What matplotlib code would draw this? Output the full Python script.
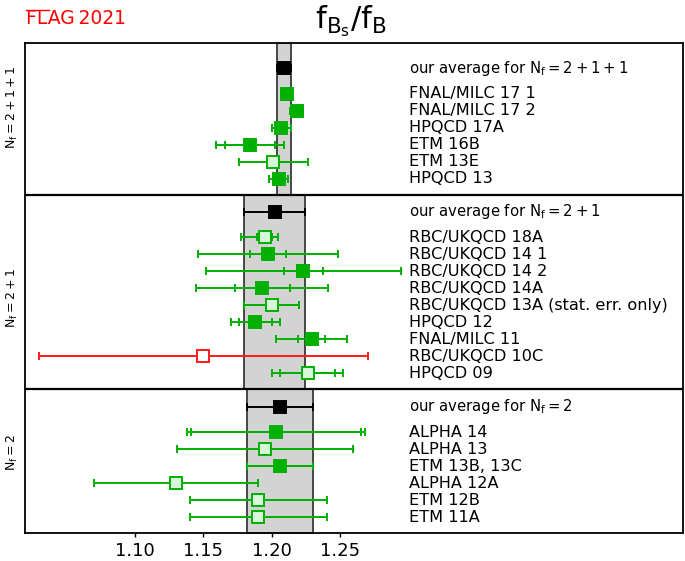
import numpy as np
import matplotlib
matplotlib.use('Agg')
import matplotlib.pyplot as plt
from matplotlib.lines import Line2D
import matplotlib.transforms as mtransforms

plt.rcParams['font.family'] = ['DejaVu Sans']
plt.rcParams['mathtext.default'] = 'regular'

# ---------------- data ----------------
group_labels = [r'$N_f=2+1+1$', r'$N_f=2+1$', r'$N_f=2$']
avg_labels = [r'our average for $N_f=2+1+1$', r'our average for $N_f=2+1$',
              r'our average for $N_f=2$']
avg_values = [1.209, 1.202, 1.206]
avg_errors = [0.005, 0.022, 0.024]

labels_4 = ['FNAL/MILC 17 1', 'FNAL/MILC 17 2', 'HPQCD 17A', 'ETM 16B', 'ETM 13E', 'HPQCD 13']
values_4 = [1.2109, 1.2180, 1.207, 1.184, 1.201, 1.205]
err_lo_4 = [0.0041, 0.0049, 0.007, 0.025, 0.025, 0.007]
err_hi_4 = [0.0041, 0.0049, 0.007, 0.025, 0.025, 0.007]
stat_4 = [0, 0, 0, 0.018, 0, 0]
style_4 = ['filled', 'filled', 'filled', 'filled', 'open', 'filled']

labels_3 = ['RBC/UKQCD 18A', 'RBC/UKQCD 14 1', 'RBC/UKQCD 14 2', 'RBC/UKQCD 14A',
            'RBC/UKQCD 13A (stat. err. only)', 'HPQCD 12', 'FNAL/MILC 11',
            'RBC/UKQCD 10C', 'HPQCD 09']
values_3 = [1.1949, 1.197, 1.223, 1.193, 1.200, 1.188, 1.229, 1.150, 1.226]
err_lo_3 = [0.0171, 0.051, 0.071, 0.048, 0.020, 0.018, 0.026, 0.120, 0.026]
err_hi_3 = [0.0093, 0.051, 0.071, 0.048, 0.020, 0.018, 0.026, 0.120, 0.026]
stat_3 = [0.0055, 0.013, 0.014, 0.020, 0, 0.012, 0.010, 0, 0.020]
style_3 = ['open', 'filled', 'filled', 'filled', 'open', 'filled', 'filled', 'red', 'open']

labels_2 = ['ALPHA 14', 'ALPHA 13', 'ETM 13B, 13C', 'ALPHA 12A', 'ETM 12B', 'ETM 11A']
values_2 = [1.203, 1.195, 1.206, 1.130, 1.190, 1.190]
err_lo_2 = [0.065, 0.064, 0.024, 0.060, 0.050, 0.050]
err_hi_2 = [0.065, 0.064, 0.024, 0.060, 0.050, 0.050]
stat_2 = [0.062, 0, 0, 0, 0, 0]
style_2 = ['filled', 'open', 'filled', 'open', 'open', 'open']

groups = [
    (labels_4, values_4, err_lo_4, err_hi_4, stat_4, style_4),
    (labels_3, values_3, err_lo_3, err_hi_3, stat_3, style_3),
    (labels_2, values_2, err_lo_2, err_hi_2, stat_2, style_2),
]

xticks = [1.10, 1.15, 1.20, 1.25]
xlim = (1.02, 1.50)

# ---------------- style ----------------
GREEN = '#00b000'
LIGHT = '#d8f6d8'
colors = {'filled': (GREEN, GREEN), 'open': (GREEN, LIGHT), 'red': ('#ff1a1a', 'white')}
pad_top = [1.47, 1.0, 1.03]
gap_avg = 1.5
pad_bot = 0.95
label_frac = [0.42, 0.53, 0.44]
label_x = 1.30
MS = 9
MEW = 1.4
ELW = 1.4
CAP = 3

fig = plt.figure(figsize=(6.85, 5.61), dpi=100)
ax = fig.add_axes([0.0365, 0.0494, 0.961, 0.8734])

y = 0.0
bounds = []
for gi, (labs, vals, elo, ehi, stat, sty) in enumerate(groups):
    top = y
    yavg = top + pad_top[gi]
    rows = yavg + gap_avg + np.arange(len(labs))
    bottom = rows[-1] + pad_bot
    y = bottom
    bounds.append(bottom)

    a, ae = avg_values[gi], avg_errors[gi]
    ax.fill_betweenx([top, bottom], a - ae, a + ae, facecolor='#d3d3d3',
                     edgecolor='#3a3a3a', linewidth=1.3, zorder=0.5)
    ax.errorbar([a], [yavg], xerr=[[ae], [ae]], fmt='none', ecolor='black',
                elinewidth=ELW, capsize=CAP, capthick=ELW, zorder=3)
    ax.plot([a], [yavg], marker='s', ms=MS, mfc='black', mec='black', mew=MEW,
            linestyle='none', zorder=4)
    ax.text(label_x, yavg, avg_labels[gi], fontsize=10.7, va='center', ha='left')

    for lab, v, lo, hi, st, s, yy in zip(labs, vals, elo, ehi, stat, sty, rows):
        ec, fc = colors[s]
        ax.errorbar([v], [yy], xerr=[[lo], [hi]], fmt='none', ecolor=ec,
                    elinewidth=ELW, capsize=CAP, capthick=ELW, zorder=3)
        if st > 0:
            ax.errorbar([v], [yy], xerr=[[st], [st]], fmt='none', ecolor=ec,
                        elinewidth=ELW, capsize=CAP, capthick=ELW, zorder=3)
        ax.plot([v], [yy], marker='s', ms=MS, mfc=fc, mec=ec, mew=MEW,
                linestyle='none', zorder=4)
        ax.text(label_x, yy, lab, fontsize=11.6, va='center', ha='left')

    trans = mtransforms.blended_transform_factory(ax.transAxes, ax.transData)
    ax.text(-0.0198, top + label_frac[gi] * (bottom - top), group_labels[gi],
            rotation=90, ha='center', va='center', fontsize=9, transform=trans)

for b in bounds[:-1]:
    ax.axhline(b, color='black', linewidth=1.6, zorder=5)

ax.set_xlim(*xlim)
ax.set_ylim(y, 0)
ax.set_xticks(xticks)
ax.set_xticklabels(['%.2f' % t for t in xticks])
ax.tick_params(axis='x', direction='out', length=3, width=1, labelsize=13, pad=3)
ax.set_yticks([])
for sp in ax.spines.values():
    sp.set_linewidth(1.3)

fig.text(0.512, 0.963, r'$f_{B_s}/f_B$', fontsize=22, ha='center', va='center')
fig.text(26 / 685, 1 - 19 / 561, 'FLAG\u20092021', fontsize=13.5, color='red',
         ha='left', va='center')
fig.add_artist(Line2D([26 / 685, 49 / 685], [1 - 10 / 561] * 2, color='red',
                      linewidth=1.0, transform=fig.transFigure))

fig.savefig('out.png', dpi=100)
